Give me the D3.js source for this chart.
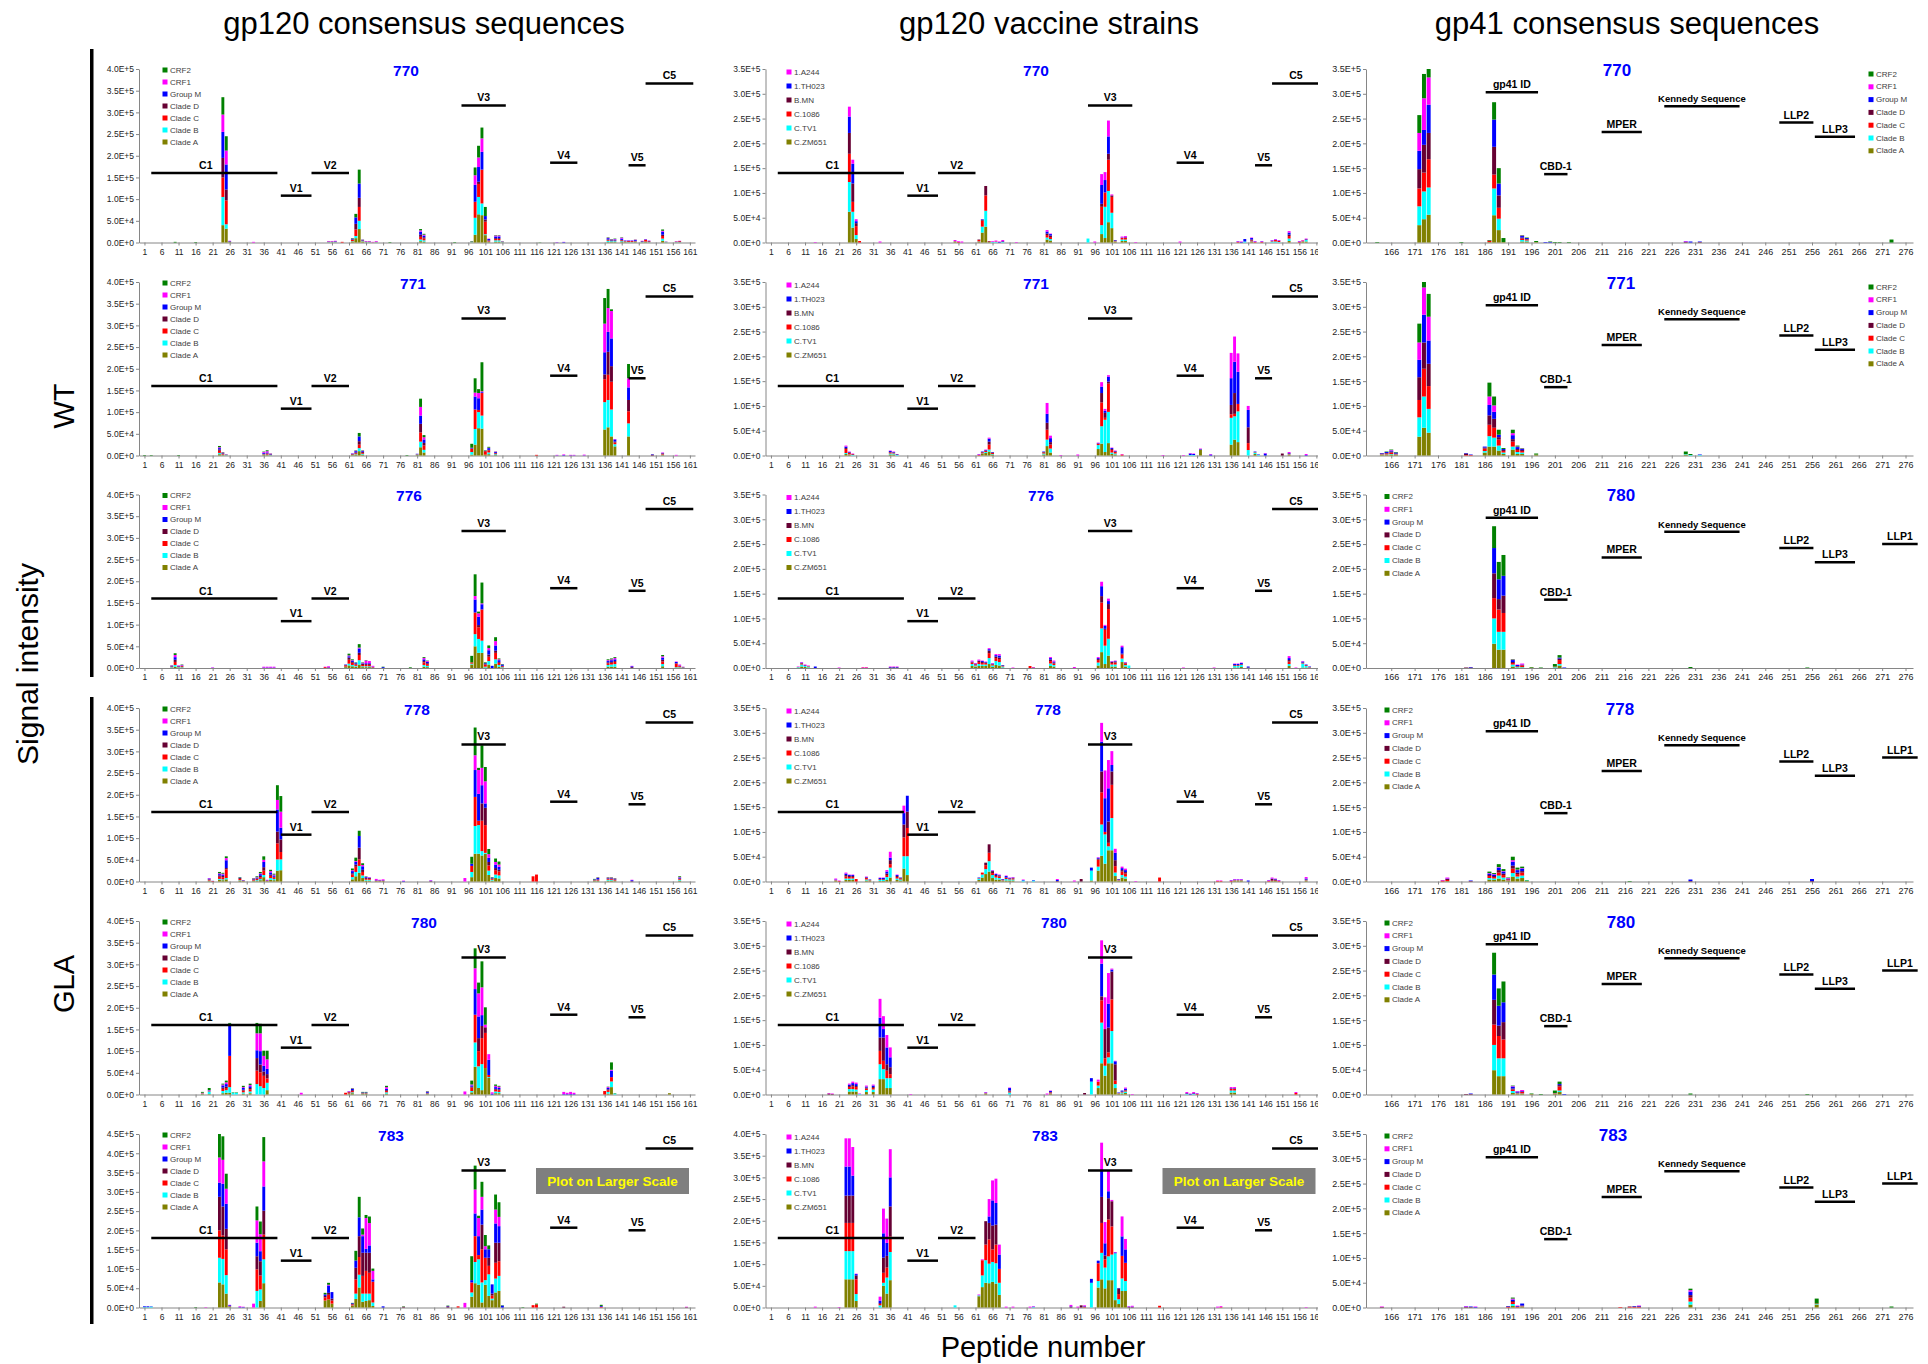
<!DOCTYPE html>
<html>
<head>
<meta charset="utf-8">
<title>Peptide array signal intensity</title>
<script src="https://cdn.jsdelivr.net/npm/d3@7"></script>
<style>
  body { margin: 0; background: #fff; }
  svg { display: block; font-family: "Liberation Sans", Arial, sans-serif; }
</style>
</head>
<body>
<script>
// Series (stack order bottom -> top)
const consensusSeries = ["Clade A", "Clade B", "Clade C", "Clade D", "Group M", "CRF1", "CRF2"];
const consensusColors = ["#808000", "#00ffff", "#ff0000", "#660033", "#0000ff", "#ff00ff", "#008000"];
const vaccineSeries = ["C.ZM651", "C.TV1", "C.1086", "B.MN", "1.TH023", "1.A244"];
const vaccineColors = ["#808000", "#00ffff", "#ff0000", "#660033", "#0000ff", "#ff00ff"];

const columnTitles = ["gp120 consensus sequences", "gp120 vaccine strains", "gp41 consensus sequences"];
const rowIds = ["770", "771", "776", "778", "780", "783"];
const gp41RowIds = ["770", "771", "780", "778", "780", "783"];

// tick labels
const gp120Ticks = [1, 6, 11, 16, 21, 26, 31, 36, 41, 46, 51, 56, 61, 66, 71, 76, 81, 86, 91, 96, 101, 106, 111, 116, 121, 126, 131, 136, 141, 146, 151, 156, 161];
const gp41Ticks = [166, 171, 176, 181, 186, 191, 196, 201, 206, 211, 216, 221, 226, 231, 236, 241, 246, 251, 256, 261, 266, 271, 276];
const yTicks35 = [0, 5e4, 1e5, 1.5e5, 2e5, 2.5e5, 3e5, 3.5e5];
const yTicks40 = [0, 5e4, 1e5, 1.5e5, 2e5, 2.5e5, 3e5, 3.5e5, 4e5];
const yTicks45 = [0, 5e4, 1e5, 1.5e5, 2e5, 2.5e5, 3e5, 3.5e5, 4e5, 4.5e5];

// region markers: name, first peptide, last peptide, level (fraction of axis height), label peptide (optional)
const gp120Regions = [["C1", 3, 40, 0.40, 19], ["V1", 41, 50, 0.27], ["V2", 50, 61, 0.40], ["V3", 94, 107, 0.79],
  ["V4", 120, 128, 0.46], ["V5", 143, 148, 0.445], ["C5", 148, 162, 0.917]];
const gp41Regions = [["gp41 ID", 186.2, 197.4, 0.866], ["Kennedy Sequence", 224.4, 240.5, 0.786], ["MPER", 211, 219.6, 0.637],
  ["CBD-1", 198.7, 203.7, 0.394], ["LLP2", 249, 256.3, 0.691], ["LLP3", 256.6, 265.2, 0.609]];
const gp41RegionLLP1 = ["LLP1", 271, 278.6, 0.714];

// values in thousands: [peptide, Clade A, Clade B, Clade C, Clade D, Group M, CRF1, CRF2]
const p770a = [[10,0,0,0,0,0,0,1.5],[16,0,0,0,0,0,0,1],[24,40,65,45,45,60,40,40],[25,32,10,55,25,58,32,33],[26,1,0.5,1,0,1,0.5,0],
  [33,0,0,0,0,0,1.5,0],[55,0.5,0.5,0.5,0.5,0.5,1,0],[56,0.5,0.5,0.5,0.5,0.5,1,0],[57,0.5,0.5,0.5,0.5,1,1,0],[59,0,0,1.5,0,0,0,0],
  [62,2,1,3,1,2,0,1],[63,10,5,15,13,15,0,8],[64,31,19,32,21,33,0,32],[65,2,1,1,1,1,0.5,0.5],[66,0.5,0.5,0.5,0.5,0.5,1,0],
  [67,0.5,0.5,0.5,0.5,0.5,1,0],[68,0.5,0,0,0,0,1,0],[69,0.5,0.5,0.5,0,0.5,1.5,0],[73,0,0,0,0,0,0,1],[82,3,4,6,5,7,3,3],
  [83,2,3,4,3,4,2,2],[92,0,0,0,0,0,0,1],[97,0.5,0.5,0.5,0,0.5,0,1],[98,18,39,37,0,39,22,18],[99,65,40,30,5,34,22,27],
  [100,63,27,78,0,41,31,25],[101,17,2,29,5,8,0,21],[102,1,1,2,1,3,1,0],[104,2,3,3,2,4,2,1],[105,2,3,3,2,4,2,1],
  [106,0.5,0.5,0.5,0,0.5,0.5,0.5],[117,0,0,0,0,0,0,0.5],[122,0,0,0,0,0.5,0.5,0],[124,0,0,0,0,1,0.5,0],[137,1,3,2,1,3,1,1],
  [138,1,2,1,1,1,1,1],[139,1,2,1,1,2,1,1],[141,1,2,2,1,3,2,1],[142,1,1,1,0.5,1,0.5,0],[143,0.5,0.5,2,0.5,1,0.5,0],
  [144,0.5,0.5,2,0.5,1,0.5,0],[145,1,1,1,0.5,2,1,0.5],[147,0.5,0.5,1,0.5,1,0.5,0],[148,1,1,4,0.5,1,0.5,0],
  [149,0.5,0.5,1.5,0.5,1,0.5,0],[153,4,5,6,3,7,2,3],[154,0.5,0.5,0.5,0,0.5,0,0],[157,0.5,0.5,1,0,0.5,0.5,0],[158,0.5,0.5,2,0,0.5,0.5,0]];
const p771a = [[1,0,0,0,0,0,0,1],[3,0,0,0,0,0,0,1],[11,0,0,0,0,0,0,1],[23,3,3,5,3,3,2,3],[24,1,1,2,1,1,1,1],[25,0.5,0.5,0.5,0.5,0.5,0,0],
  [36,1,1,1,1,2,2,1],[37,1,1,2,1,2,3,2],[38,0.5,0.5,1,0.5,1,1,0.5],[62,1,0.5,1,1,1,0.5,0],[63,2,1,2,2,3,1,1],[64,10,7,8,8,11,0,8],
  [65,2,2,2,2,2,1,1],[78,0,0,0,0,0,0,1],[81,1,1,1,0,1,0,0],[82,19,13,21,20,19,20,19],[83,7,6,10,6,8,5,5],[97,2,6,8,0,2,0,9],
  [98,25,36,45,0,30,9,33],[99,63,37,5,0,27,12,9],[100,62,30,52,0,2,2,67],[101,2,0,8,0,1,0,1],[102,3,4,5,1,4,1,2],
  [104,1,2,2,1,2,1,0.5],[116,0,0,1.5,0,0,0,0],[122,0,0,0,0,0.5,1,0],[124,0,0,0,0,1,1.5,0],[126,0,0,0,0,0.5,1,0],
  [127,0,0,0,0,0.5,1,0],[130,0,0,0,0,0.5,1.5,0],[136,60,63,53,11,51,66,59],[137,65,63,58,53,46,55,44],[138,44,62,64,36,64,63,4],
  [139,21,5,4,2,5,1,0],[143,44,30,28,26,29,21,33],[150,0,0,0,2,1,0,0],[153,1,1,2,1,1,1,0],[157,0,0,0,0,0,1.5,0]];
const p776a = [[9,1,1,1,1,1,1,0.5],[10,3,4,7,5,6,5,4],[11,1,1,1,1,1,1,0],[12,1,1,2,1,1,1,1],[21,0,0,0,0,0.5,1,0],[36,0,0,0,0,1,2,0],
  [37,0,0,0,0,1,2,0],[38,0,0,0,0,1,2,0],[39,0,0,0,0,1,2,0],[54,0,0,2,0,0,1,0],[55,0,0,1,0,1,2,0],[60,2,1,3,1,1,0,0],
  [61,6,4,9,5,3,2,4],[62,4,3,5,2,3,1,2],[63,3,2,3,2,2,0,1],[64,8,10,12,5,10,2,8],[65,2,2,3,3,1,1,1],[66,2,2,3,2,2,6,1],
  [67,2,2,3,2,2,5,0],[68,1,0,1,0,1,2,0],[71,0,0,0,0,2,0,1],[79,0,0,0,0,0,0,1.5],[83,3,4,6,3,4,3,2],[84,2,3,4,2,3,2,1],
  [97,8,2,3,0,0,0,15],[98,50,28,50,0,30,8,50],[99,35,32,27,5,19,8,4],[100,35,28,72,0,12,2,48],[101,1,2,5,1,2,0,2],
  [102,8,8,10,5,10,5,6],[103,0,0,0,0,5,0,0],[104,10,10,15,5,12,10,9],[105,3,4,5,2,4,2,2],[106,1,1,2,1,3,0,1],
  [137,3,4,4,2,3,2,2],[138,3,5,4,2,4,2,2],[139,3,6,5,2,4,3,2],[144,0,0,0,2,2,1,0],[153,4,5,6,4,5,3,3],[157,1,1,8,1,3,1,0],
  [158,1,1,2,1,1,2,0],[159,0.5,0.5,0.5,0.5,0.5,0.5,0]];
const p778a = [[20,1,1,2,1,2,1,0],[21,0,0,1,0,0.5,0,0],[23,4,2,5,3,3,2,3],[24,3,2,5,3,3,2,2],[25,5,3,20,3,18,5,4],[29,2,1,3,2,1,0,1],
  [30,1,0,1,0,1,0,0],[33,1,1,2,1,1,1,1],[34,1,2,3,1,2,1,2],[35,3,3,4,3,4,2,3],[36,10,5,10,8,12,5,8],[37,1,0,1,0,1,1,0],
  [38,4,4,5,3,5,3,3],[39,3,3,3,2,3,2,2],[40,25,26,37,27,51,22,34],[41,26,25,17,29,27,37,36],[62,5,5,6,3,5,2,4],
  [63,12,10,12,5,6,2,8],[64,20,16,15,27,27,0,12],[65,8,6,8,5,8,3,4],[66,2,2,2,2,2,1,1],[67,2,2,2,2,1,1,0],[69,1,0,1,0,1,3,0],
  [70,1,0,1,0,1,1,0],[71,1,0,1,0,1,2,0],[77,0,0,0,0,1,1,0],[85,0,0,0,1,1,1,0],[95,0,0,0,0,0,8,0],[97,10,12,14,0,5,0,16],
  [98,64,64,67,0,62,34,64],[99,64,66,10,0,62,55,5],[100,60,10,70,40,42,40,52],[101,64,2,64,40,10,51,33],[102,15,10,12,8,10,8,12],
  [103,2,2,2,1,2,0,1],[104,8,8,10,5,8,6,8],[105,7,7,9,4,7,5,7],[115,0,0,12,0,0,0,0],[116,0,0,16,0,0,0,0],[133,1,1,1,1,1,0,1],
  [134,1,1,2,1,3,1,1],[137,2,2,2,1,1,1,1],[138,2,2,2,1,1,1,1],[139,1,1,2,1,1,1,1],[144,0,0,0,1,2,1,0],[158,2,2,2,1,2,1,2]];
const p780a = [[18,1,1,1,0,0,1,2],[20,1,6,1,0,1,1,5],[24,3,5,5,3,5,2,2],[25,4,6,5,3,6,4,4],[26,4,13,72,0,74,0,2],[27,0,4,0,0,0,0,1],
  [28,0,4,0,0,0,0,1],[30,2,3,4,2,4,2,3],[32,3,4,5,3,4,3,3],[34,0,24,31,29,18,39,24],[35,0,19,32,18,31,41,22],[36,0,15,28,10,13,23,12],
  [37,10,17,10,10,12,22,20],[47,0,0,0,0,0,4,0],[60,0,0,4,0,0,0,0],[61,1,1,3,1,1,1,0],[62,3,2,3,2,3,1,1],[65,1,1,1,1,1,0,1],
  [66,1,1,1,1,1,0,1],[72,2,3,3,2,3,4,3],[84,1,1,1,1,2,1,1],[95,0,0,0,0,0,7,0],[97,5,3,8,2,3,2,9],[98,64,56,64,0,59,48,46],
  [99,15,50,35,30,50,53,25],[100,10,60,60,28,25,64,60],[101,61,0,81,13,0,6,40],[102,38,2,5,0,35,13,0],[103,0,0,0,0,2,3,0],
  [104,3,4,4,2,4,3,3],[105,3,3,4,2,3,3,2],[124,0,0,0,0,1,5,0],[125,0,0,0,0,1,3,0],[126,0,0,0,0,1,5,0],[127,0,0,0,0,1,3,0],
  [136,0,0,8,0,0,0,0],[137,2,4,4,2,3,2,1],[138,17,13,10,0,15,2,17],[139,0,2,0,0,0,0,1],[155,3,0,0,0,0,0,0]];
const p783a = [[1,0,1,0,0,2,0,0],[2,0,1,0,0,2,0,0],[3,0,2,0,0,1,0,0],[16,0,0,0,0,0,0,1],[19,0,0,0,0,0,1,0],[23,65,64,71,87,37,65,61],
  [24,60,66,61,75,59,62,61],[25,36,48,67,53,65,39,39],[26,1,1,1,1,2,1,0],[29,0,0,0,0,1,2,0],[30,0,0,0,0,1,1,0],[33,0,0,0,0,0,10,0],
  [34,0,43,56,34,35,58,36],[35,17,30,36,37,26,44,33],[36,63,62,64,62,63,65,63],[54,18,0,8,4,4,0,4],[55,21,0,12,5,19,2,5],
  [56,10,0,8,5,17,0,0],[62,4,1,3,1,2,0,1],[63,22,14,37,30,19,0,25],[64,52,33,46,54,49,0,53],[65,15,21,46,60,43,4,16],
  [66,17,19,59,47,10,80,8],[67,19,17,54,52,19,58,17],[68,4,9,54,0,6,22,6],[71,0,0,0,0,3,0,0],[77,0,0,0,2,0,0,1],[90,0,0,0,3,1,0,1],
  [93,0,0,3,0,0,0,0],[95,0,0,0,0,0,12,0],[97,28,11,26,0,6,0,62],[98,63,55,67,0,59,62,62],[99,59,66,11,0,49,47,6],
  [100,13,52,86,64,39,33,39],[101,59,12,58,0,22,8,29],[102,30,56,22,21,22,0,10],[103,19,4,8,5,24,0,0],[104,39,36,41,52,50,36,39],
  [105,43,39,38,48,43,24,38],[106,0,0,0,0,5,0,1],[112,0,0,0,0,0,0,1],[115,0,0,6,0,0,0,0],[116,0,0,8,0,0,0,2],[124,0,0,0,2,0,0,0],
  [135,0,0,2,0,2,0,3],[160,0,0,0,1,0,1,0]];

// values in thousands: [peptide, C.ZM651, C.TV1, C.1086, B.MN, 1.TH023, 1.A244]
const p770b = [[14,0,0,0,0,0,1],[24,62,60,57,42,33,20],[25,30,32,20,37,40,8],[26,7,8,18,6,4,4],[27,0,0,3,0,0,0],[33,0,0,0,0,0,2],
  [55,1,1,1,0,0,2],[56,0,0,1,0,0,1.5],[57,0,0,0,0,0,2],[62,1,1,3,1,0,0],[63,20,12,12,2,1,0],[64,32,32,31,19,0,0],[65,1,0,1,1,0,0],
  [66,0,1,0,0,0,1.5],[67,0,1,1,0,0,2],[68,0,0,0,0,1,1],[69,0,1,1,0,1,2],[73,0,0,0,0,0,1],[82,6,4,5,3,4,3],[83,4,3,4,3,3,1],
  [94,0,8,0,0,0,0],[96,0,0,0,0,0,2],[98,17,18,37,6,38,22],[99,9,63,29,0,25,16],[100,41,63,63,12,35,32],[101,29,31,32,3,0,2],
  [102,1,1,1,1,1,0],[104,3,3,3,0,1,2],[105,3,3,4,0,1,2],[108,0,0,0,0,0,1],[121,0,0,0,0,0,2],[138,0,0,1,0,1,1],[139,0,0,0,0,1,1],
  [140,0,2,0,0,5,0],[142,1,1,2,2,3,1],[143,0,0,1,0,1,1],[145,0,0,1,0,1,1],[148,0,2,1,0,1,1],[149,0,2,3,0,1,1],[150,0,1,2,0,1,1],
  [153,3,5,5,3,4,3],[156,0,0,1,0,1,1],[157,1,1,2,0,0,1],[158,2,3,1,0,1,1]];
const p771b = [[23,3,2,8,2,3,2],[24,1,1,3,1,1,1],[25,0,1,1,1,0,1],[36,2,2,2,1,2,1],[37,2,2,1,1,1,1],[38,0,1,1,0,1,0],[62,0,0,1,0,1,1],
  [63,3,1,2,1,1,0],[64,5,2,2,1,1,1],[65,8,4,10,6,6,2],[66,2,1,2,1,1,0],[81,2,2,2,1,1,0],[82,19,13,20,14,18,22],[83,6,8,8,5,8,5],
  [86,0,0,0,0,0,1],[91,0,0,0,0,0,2],[97,13,8,3,0,1,1],[98,24,35,48,19,13,9],[99,7,65,4,10,4,4],[100,25,63,57,4,10,3],
  [101,3,3,5,2,2,1],[102,2,2,3,1,1,1],[104,0,0,2,0,0,1],[116,0,0,0,0,0,1],[122,0,0,0,0,0,1],[124,0,1,0,0,3,1],[125,0,1,0,0,2,1],
  [127,12,0,0,0,1,1],[130,0,0,0,0,2,1],[136,22,54,7,19,54,51],[137,32,47,5,42,63,51],[138,27,62,15,0,65,37],[141,0,11,14,32,35,8],
  [143,3,3,1,0,1,0],[144,0,1,0,0,1,0],[146,0,0,0,0,4,1],[151,0,0,0,4,0,0],[153,1,1,1,1,1,2],[158,0,0,0,0,1,2]];
const p776b = [[9,1,1,0,0,0,1],[10,3,4,2,1,1,1],[11,2,2,1,0,1,1],[12,1,2,1,0,0,1],[14,0,0,0,0,3,0],[21,0,0,0,0,0,1],[28,0,0,1,0,0,1],
  [29,0,0,1,0,0,1],[36,0,0,0,1,1,1],[37,0,0,0,1,1,1],[38,0,0,0,1,1,1],[60,4,4,3,1,1,2],[61,3,2,2,1,1,1],[62,4,4,4,2,1,2],
  [63,4,3,3,2,2,1],[64,4,3,3,1,1,1],[65,8,12,10,5,3,2],[66,2,3,2,1,1,1],[67,6,8,6,3,3,2],[68,5,7,6,3,4,3],[69,1,2,1,1,1,0],
  [72,0,0,0,0,0,1],[77,0,0,4,0,0,0],[78,0,0,0,1,0,1],[83,4,5,5,3,3,2],[84,3,3,3,2,2,2],[90,0,0,0,0,0,2],[97,5,6,5,2,2,2],
  [98,32,48,52,13,20,9],[99,8,37,32,2,6,2],[100,25,34,60,10,6,5],[101,3,4,3,2,1,1],[102,3,4,4,2,1,1],[104,12,7,8,2,13,3],
  [105,3,3,3,1,1,1],[106,0,5,0,0,0,0],[122,0,0,0,0,0,1],[131,0,0,0,0,0,1],[137,1,3,1,1,2,1],[138,1,3,1,1,2,1],[139,2,4,1,1,2,1],
  [141,0,0,0,1,2,0],[153,4,4,5,3,4,4],[155,0,0,0,0,0,1],[157,1,8,1,1,2,1],[158,1,3,1,1,1,0],[159,0,1,1,0,1,0]];
const p778b = [[20,1,1,1,0,1,2],[21,0,0,1,0,0,1],[23,3,3,4,3,3,2],[24,3,3,3,2,2,1],[25,3,3,3,2,2,1],[26,0,0,5,0,0,0],[29,2,2,3,1,1,1],
  [30,1,1,1,0,1,0],[33,1,2,1,1,2,1],[34,1,2,1,1,2,1],[35,3,6,4,3,4,3],[36,8,20,7,8,5,12],[38,3,3,3,2,2,1],[39,2,2,2,1,1,0],
  [40,26,25,38,26,23,15],[41,13,38,57,33,32,0],[62,3,3,1,0,1,0],[63,8,6,4,0,0,0],[64,15,10,8,5,0,0],[65,20,21,17,17,0,0],
  [66,7,6,4,4,1,1],[67,4,4,3,2,2,1],[68,4,3,3,2,1,1],[69,1,1,1,1,1,0],[70,2,3,2,1,3,1],[71,2,2,1,1,1,1],[72,2,2,2,1,1,1],
  [75,0,2,0,0,1,1],[78,0,2,0,0,1,0],[85,0,0,0,1,2,2],[90,0,0,0,0,0,2],[92,0,0,0,5,0,0],[95,2,20,0,0,6,0],[97,22,8,14,2,2,1],
  [98,52,63,65,42,60,38],[99,36,59,5,0,68,56],[100,63,8,7,43,67,57],[101,63,65,67,27,13,28],[102,11,7,13,12,15,8],[103,1,1,1,1,1,0],
  [104,8,5,7,3,4,3],[105,6,4,6,3,4,3],[108,0,0,0,0,0,1],[115,0,0,8,0,0,0],[132,0,0,1,0,0,1],[133,0,0,1,0,0,1],[136,0,0,1,0,1,1],
  [137,1,1,1,0,1,1],[138,1,1,1,0,1,1],[139,1,1,1,0,1,1],[141,0,0,0,0,2,0],[147,0,0,1,0,1,1],[148,1,0,1,3,1,2],[149,1,0,1,2,1,1],
  [150,0,0,1,0,1,1],[158,1,1,1,1,2,3]];
const p780b = [[18,0,0,0,2,0,1],[19,0,0,0,1,0,1],[24,6,5,4,2,3,2],[25,6,5,5,3,4,3],[26,6,4,5,2,4,3],[27,0,1,0,0,0,1],[29,5,4,3,2,2,2],
  [31,5,5,3,2,3,2],[33,31,30,27,27,40,38],[34,31,20,17,47,17,26],[35,13,20,15,13,34,25],[36,13,20,8,14,20,20],[42,0,0,0,0,0,1],
  [64,1,1,1,0,1,1],[71,0,4,2,2,5,1],[82,0,0,0,0,0,2],[83,1,1,2,1,2,1],[93,0,0,0,3,0,0],[95,0,26,0,0,7,0],[97,13,5,8,0,0,4],
  [98,63,82,45,8,66,47],[99,38,20,15,59,0,64],[100,63,12,10,50,48,62],[101,63,65,64,56,4,2],[102,13,8,7,33,6,1],[103,1,1,1,0,1,0],
  [104,2,2,1,1,2,0],[105,3,3,2,1,3,2],[107,0,0,0,0,0,1],[123,0,1,1,0,1,2],[124,0,0,0,0,1,1],[125,0,1,1,0,1,2],[126,0,0,1,0,1,1],
  [136,4,4,4,0,1,2],[137,4,4,4,0,1,2],[155,0,0,3,0,0,2]];
const p783b = [[14,0,0,0,0,0,2],[21,0,0,0,0,0,1],[23,65,65,65,63,67,65],[24,65,65,65,63,67,65],[25,65,65,65,63,46,66],[26,15,16,34,9,3,1],
  [33,0,5,3,2,6,9],[34,50,7,23,35,56,57],[35,32,37,23,27,30,56],[36,63,65,36,69,67,65],[55,0,5,0,0,0,0],[62,26,2,0,0,0,2],
  [63,47,27,35,0,0,2],[64,57,52,36,54,0,0],[65,56,45,56,38,15,40],[66,59,46,29,55,58,46],[67,55,47,43,46,50,56],[68,29,28,32,0,33,23],
  [70,0,0,0,0,0,2],[72,0,0,0,0,0,2],[77,0,0,0,0,0,2],[78,0,1,0,0,1,1],[89,0,0,0,2,1,3],[91,0,0,0,0,0,2],[92,0,0,0,5,0,0],
  [93,0,0,1,1,1,2],[95,0,57,0,0,9,0],[97,46,15,41,0,6,0],[98,65,61,69,60,62,63],[99,44,48,19,9,28,49],[100,63,55,85,49,16,49],
  [101,63,59,65,58,0,3],[102,17,108,0,0,2,1],[103,8,11,12,13,1,0],[104,38,29,52,0,45,46],[105,38,23,42,0,31,24],[106,0,0,0,1,1,1],
  [107,0,0,0,1,1,2],[115,0,0,4,0,0,0],[132,0,0,0,0,0,2],[133,0,0,1,0,0,2],[158,0,0,0,0,0,1]];

// gp41 values in thousands: [peptide, Clade A, Clade B, Clade C, Clade D, Group M, CRF1, CRF2]
const p770c = [[163,0,0,0,0,0,0,1],[172,35,38,36,39,37,36,36],[173,47,56,38,56,30,64,49],[174,56,55,57,53,57,55,17],[181,0,0,0,0,0,0,1],
  [187,1,0,2,1,0,0,1],[188,55,54,28,56,55,0,35],[189,25,23,22,25,24,0,31],[190,1,0,0,0,0,0,8],[194,2,3,3,2,3,1,1],[195,2,2,2,1,2,0,1],
  [197,1,0,0,0,0,0,2],[199,0,0,0,0,1,0,0],[200,0,0,0,0,1,0,1],[201,0,0,0,0,0,0,1],[202,0,0,0,0,0,0,1],[204,0,0,0,0,0,0,1],
  [229,0,0,0,1,1,1,0],[230,0,0,0,0,2,0,0],[232,0,0,0,1,1,0,0],[273,0,0,0,0,0,0,6]];
const p771c = [[164,1,1,1,1,1,0,0],[165,1,1,2,1,2,0,1],[166,2,1,3,2,2,1,1],[167,1,1,1,1,2,0,1],[172,38,39,35,46,35,35,38],
  [173,56,63,56,53,56,55,11],[174,46,48,46,45,47,48,46],[182,0,0,1,3,1,0,0],[183,0,0,1,0,1,0,0],[186,6,3,5,2,2,0,0],
  [187,18,21,23,19,21,17,28],[188,18,18,20,18,14,13,18],[189,10,10,12,5,5,0,10],[190,3,3,3,2,2,0,2],[192,12,6,10,5,8,4,7],
  [193,3,4,4,2,4,1,2],[194,3,3,3,2,2,1,1],[197,2,0,0,0,0,0,2],[229,2,1,0,0,0,0,5],[230,0,1,0,0,0,0,2],[232,0,1,0,0,1,0,0]];
const p780c = [[182,0,0,0,1,0,0,0],[183,0,0,0,1,1,0,0],[188,49,51,41,50,51,0,44],[189,37,36,45,21,40,0,35],[190,37,36,38,35,40,0,42],
  [192,3,4,3,2,4,1,1],[193,1,1,1,1,2,1,0],[194,1,1,3,1,1,2,0],[196,1,0,0,0,0,0,1],[198,0,0,0,0,0,0,1],[201,1,1,1,0,0,0,5],
  [202,5,3,8,3,2,0,5],[203,0,0,0,0,1,0,0],[230,0,0,0,0,0,0,2],[255,0,0,0,0,0,0,1]];
const p778c = [[177,0,0,1,1,0,1,0],[178,1,0,2,2,1,2,0],[183,0,0,0,1,1,0,0],[187,4,3,4,2,3,1,3],[188,3,3,3,2,3,1,2],[189,6,6,6,5,5,1,6],
  [190,4,4,5,3,4,1,4],[191,1,1,2,1,1,1,1],[192,10,7,9,6,8,3,7],[193,6,4,5,3,5,1,4],[194,7,5,6,3,5,1,3],[195,1,1,0,0,0,0,1],
  [217,0,0,0,0,0,0,1],[230,0,0,0,1,3,0,0],[256,0,0,0,1,4,0,0]];
const p783c = [[164,0,0,0,1,0,1,0],[182,0,0,0,1,1,1,0],[183,0,0,0,1,1,0,0],[184,0,0,0,0,1,1,0],[191,0,0,1,1,1,0,0],[192,3,4,4,2,3,2,2],
  [193,0,0,1,1,1,1,0],[194,1,1,1,1,4,0,0],[215,0,0,1,0,0,0,0],[217,0,0,1,1,0,0,0],[218,0,0,1,1,1,0,0],[219,0,0,1,1,1,1,0],
  [230,6,6,8,5,7,3,3],[257,6,1,1,0,0,0,10],[273,0,0,0,0,0,0,2]];

const consensusData = [p770a, p771a, p776a, p778a, p780a, p783a];
const vaccineData = [p770b, p771b, p776b, p778b, p780b, p783b];
const gp41Data = [p770c, p771c, p780c, p778c, p780c, p783c];
const consensusMax = [4e5, 4e5, 4e5, 4e5, 4e5, 4.5e5];
const vaccineMax = [3.5e5, 3.5e5, 3.5e5, 3.5e5, 3.5e5, 4e5];
const gp41Max = [3.5e5, 3.5e5, 3.5e5, 3.5e5, 3.5e5, 3.5e5];

// ---- layout ----
const W = 1928, H = 1364;
const rowTops = [69, 282, 494.5, 708, 921, 1134];
const plotH = 173.5;
const cols = [
  { left: 139, right: 695, d0: -0.6, d1: 162.5 },
  { left: 765.5, right: 1321.5, d0: -0.6, d1: 162.5 },
  { left: 1366, right: 1913, d0: 160.6, d1: 277.6 }
];
const titleX = [[406, 1036, 1617], [413, 1036, 1621], [409, 1041, 1621], [417, 1048, 1620], [424, 1054, 1621], [391, 1045, 1613]];

const svg = d3.select("body").append("svg").attr("width", W).attr("height", H);

const yFmt = v => v.toExponential(1).toUpperCase();

function drawPanel(col, row) {
  const c = cols[col];
  const top = rowTops[row], bottom = top + plotH;
  const series = col === 1 ? vaccineSeries : consensusSeries;
  const colors = col === 1 ? vaccineColors : consensusColors;
  const data = [consensusData, vaccineData, gp41Data][col][row];
  const yMax = [consensusMax, vaccineMax, gp41Max][col][row];
  const yTicks = yMax > 4e5 ? yTicks45 : (yMax > 3.5e5 ? yTicks40 : yTicks35);

  const x = d3.scaleLinear().domain([c.d0, c.d1]).range([c.left, c.right]);
  const y = d3.scaleLinear().domain([0, yMax]).range([bottom, top]);
  const g = svg.append("g");

  // gp41 panels sit on top of the vaccine panels (covers their right edge)
  if (col === 2) {
    g.append("rect").attr("x", 1318).attr("y", top - 25).attr("width", W - 1318).attr("height", plotH + 50).attr("fill", "#fff");
  }

  // axes
  const yAxis = d3.axisLeft(y).tickValues(yTicks).tickFormat(yFmt).tickSize(3).tickSizeOuter(0).tickPadding(2);
  const xAxis = d3.axisBottom(x).tickValues(col === 2 ? gp41Ticks : gp120Ticks).tickSize(3).tickSizeOuter(0).tickPadding(3);
  const fs = col === 2 ? 9 : 8.5;
  g.append("g").attr("transform", `translate(${c.left},0)`).call(yAxis)
    .call(a => a.selectAll("text").attr("font-size", fs).attr("fill", "#222").attr("font-family", null));
  g.append("g").attr("transform", `translate(0,${bottom})`).call(xAxis)
    .call(a => a.selectAll("text").attr("font-size", fs).attr("fill", "#222").attr("font-family", null));
  g.selectAll(".domain, .tick line").attr("stroke", "#868686");

  // stacked bars
  const keys = series.map((s, i) => i);
  const rows = data.map(r => {
    const o = { p: r[0] };
    keys.forEach(k => { o[k] = r[k + 1] * 1000; });
    return o;
  });
  const stacked = d3.stack().keys(keys)(rows);
  const bw = (x(1) - x(0)) * 0.85;
  g.append("g").selectAll("g").data(stacked).join("g")
    .attr("fill", (d, i) => colors[i])
    .selectAll("rect").data(d => d).join("rect")
    .attr("x", d => x(d.data.p) - bw / 2)
    .attr("width", bw)
    .attr("y", d => y(d[1]))
    .attr("height", d => Math.max(0, y(d[0]) - y(d[1])));

  // region markers
  let regions = col === 2 ? gp41Regions.slice() : gp120Regions;
  if (col === 2 && row >= 2) regions = regions.concat([gp41RegionLLP1]);
  regions.forEach(([name, s, e, f, at]) => {
    const ly = bottom - plotH * f;
    g.append("line").attr("x1", x(s)).attr("x2", x(e)).attr("y1", ly).attr("y2", ly)
      .attr("stroke", "#000").attr("stroke-width", 2.5);
    g.append("text").attr("x", at !== undefined ? x(at) : (x(s) + x(e)) / 2).attr("y", ly - 4)
      .attr("text-anchor", "middle").attr("font-size", name.length > 8 ? 9.5 : 10.5).attr("font-weight", "bold")
      .text(name);
  });

  // panel title
  g.append("text").attr("x", titleX[row][col]).attr("y", top + 1)
    .attr("text-anchor", "middle").attr("dominant-baseline", "central")
    .attr("font-size", col === 2 ? 17 : 15.5).attr("font-weight", "bold").attr("fill", "#0000ff")
    .text(col === 2 ? gp41RowIds[row] : rowIds[row]);

  // legend
  let lx, ly0, ldy;
  if (col === 0) { lx = c.left + 26; ly0 = top + 1; ldy = 12; }
  else if (col === 1) { lx = c.left + 23.5; ly0 = top + 3; ldy = 14; }
  else if (row < 2) { lx = 1871; ly0 = top + 5; ldy = 12.8; }
  else { lx = c.left + 21; ly0 = top + 2; ldy = 12.8; }
  const leg = g.append("g");
  series.slice().reverse().forEach((s, i) => {
    const idx = series.length - 1 - i;
    const yy = ly0 + i * ldy;
    leg.append("rect").attr("x", lx - 2.5).attr("y", yy - 2.5).attr("width", 5).attr("height", 5).attr("fill", colors[idx]);
    leg.append("text").attr("x", lx + 5).attr("y", yy).attr("dominant-baseline", "central")
      .attr("font-size", 8).attr("fill", "#404040").text(s);
  });

  // note box on the last row
  if (row === 5 && col < 2) {
    const bx = c.left + 397, by = top + 34;
    g.append("rect").attr("x", bx).attr("y", by).attr("width", 153).attr("height", 26).attr("fill", "#7f7f7f");
    g.append("text").attr("x", bx + 76.5).attr("y", by + 13.5).attr("text-anchor", "middle").attr("dominant-baseline", "central")
      .attr("font-size", 13.5).attr("font-weight", "bold").attr("fill", "#ffff00").text("Plot on Larger Scale");
  }
}

for (let col = 0; col < 3; col++) {
  for (let row = 0; row < 6; row++) drawPanel(col, row);
}

// column titles
const colTitleX = [424, 1049, 1627];
columnTitles.forEach((t, i) => {
  svg.append("text").attr("x", colTitleX[i]).attr("y", 23).attr("text-anchor", "middle").attr("dominant-baseline", "central")
    .attr("font-size", 31).text(t);
});

// group brackets and labels
svg.append("rect").attr("x", 90).attr("y", 49).attr("width", 3.5).attr("height", 628).attr("fill", "#000");
svg.append("rect").attr("x", 90).attr("y", 697).attr("width", 3.5).attr("height", 627).attr("fill", "#000");
[["WT", 406], ["GLA", 984]].forEach(([t, cy]) => {
  svg.append("text").attr("transform", `translate(64,${cy}) rotate(-90)`).attr("text-anchor", "middle")
    .attr("dominant-baseline", "central").attr("font-size", 29).text(t);
});
svg.append("text").attr("transform", "translate(27,664) rotate(-90)").attr("text-anchor", "middle")
  .attr("dominant-baseline", "central").attr("font-size", 30).text("Signal intensity");
svg.append("text").attr("x", 1043).attr("y", 1347).attr("text-anchor", "middle").attr("dominant-baseline", "central")
  .attr("font-size", 29).text("Peptide number");
</script>
</body>
</html>
